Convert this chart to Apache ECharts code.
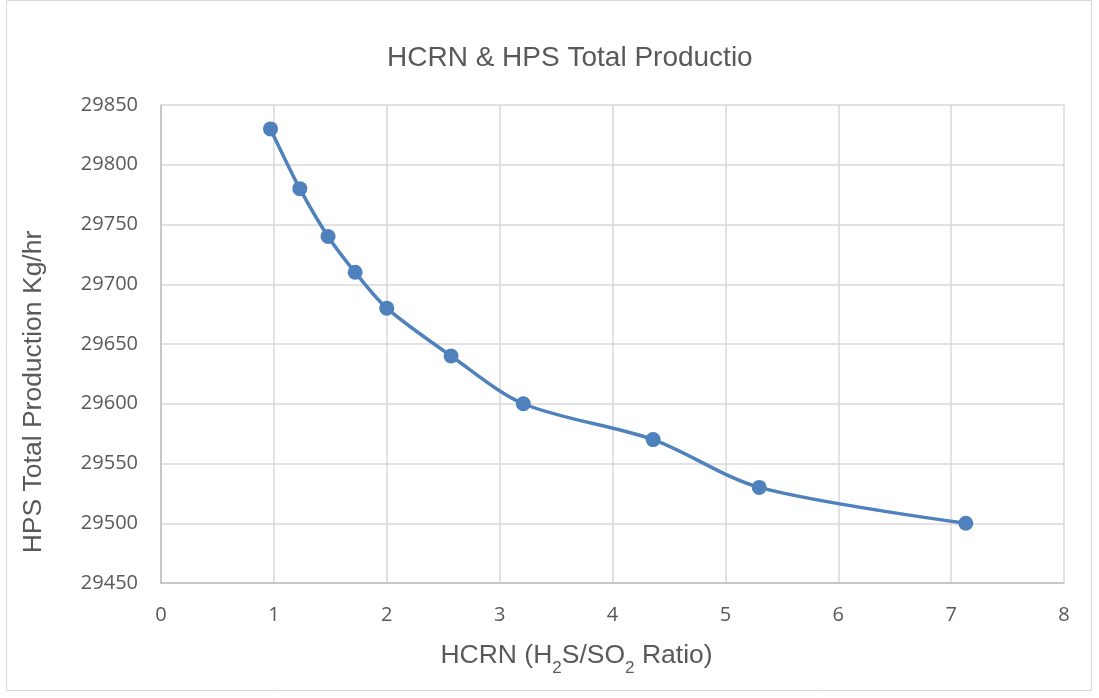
<!DOCTYPE html>
<html><head><meta charset="utf-8">
<script src="https://cdn.jsdelivr.net/npm/echarts@6/dist/echarts.min.js"></script>
<style>html,body{margin:0;padding:0;background:#fff}#c{width:1099px;height:698px}</style>
</head><body><div id="c"></div>
<script>
const hcrn = [0.97, 1.23, 1.48, 1.72, 2.0, 2.57, 3.21, 4.36, 5.30, 7.13];
const production = [29830, 29780, 29740, 29710, 29680, 29640, 29600, 29570, 29530, 29500];
const chartTitle = 'HCRN & HPS Total Productio';

const chart = echarts.init(document.getElementById('c'));
const font = 'Liberation Sans, Arial, sans-serif';
const tickFont = 'Open Sans, sans-serif';
chart.setOption({
  animation: false,
  title: { text: chartTitle, left: 382, top: 39,
    textStyle: { fontFamily: font, fontSize: 28, fontWeight: 'normal', color: '#595959' } },
  graphic: [{ type: 'rect', shape: { x: 6.5, y: 0.5, width: 1085, height: 690 },
    style: { fill: 'none', stroke: '#d9d9d9', lineWidth: 1 } }],
  grid: { left: 161, right: 35, top: 105, bottom: 115 },
  xAxis: {
    type: 'value', min: 0, max: 8, interval: 1,
    name: '{a|HCRN (H}{s|2}{a|S/SO}{s|2}{a| Ratio)}',
    nameLocation: 'middle', nameGap: 56,
    nameTextStyle: { padding: [0, 72, 0, 0], rich: {
      a: { fontFamily: font, fontSize: 26.5, color: '#595959', verticalAlign: 'bottom', lineHeight: 30 },
      s: { fontFamily: font, fontSize: 17, color: '#595959', verticalAlign: 'bottom', lineHeight: 17, padding: [0,0,-8,0] } } },
    axisLine: { show: true, lineStyle: { color: '#bfbfbf', width: 1.5 } },
    axisTick: { show: false },
    splitLine: { show: true, lineStyle: { color: '#d9d9d9', width: 1.5 } },
    axisLabel: { fontFamily: tickFont, fontSize: 20, color: '#595959', margin: 22 }
  },
  yAxis: {
    type: 'value', min: 29450, max: 29850, interval: 50,
    name: 'HPS Total Production Kg/hr', nameLocation: 'middle', nameGap: 114,
    nameTextStyle: { fontFamily: font, fontSize: 26.5, color: '#595959', padding: [0, 96, 0, 0] },
    axisLine: { show: true, lineStyle: { color: '#bfbfbf', width: 1.5 } },
    axisTick: { show: false },
    splitLine: { show: true, lineStyle: { color: '#d9d9d9', width: 1.5 } },
    axisLabel: { fontFamily: tickFont, fontSize: 20, color: '#595959', margin: 23,
      formatter: v => String(v) }
  },
  series: [{
    type: 'line', smooth: 0.3,
    data: hcrn.map((x, i) => [x, production[i]]),
    symbol: 'circle', symbolSize: 15,
    lineStyle: { color: '#4f81bd', width: 3.5 },
    itemStyle: { color: '#4f81bd' }
  }]
});
</script></body></html>
